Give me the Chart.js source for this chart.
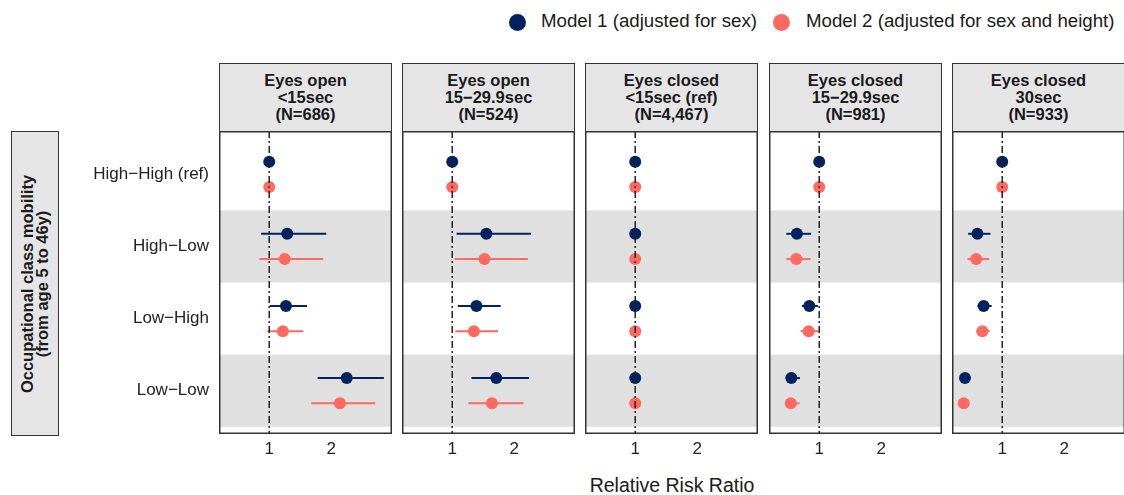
<!DOCTYPE html>
<html lang="en">
<head>
  <meta charset="UTF-8" />
  <title>Relative Risk Ratio by occupational class mobility</title>
  <script src="https://cdn.jsdelivr.net/npm/chart.js"></script>
  <style>
    body { margin: 0; width: 1124px; height: 495px; overflow: hidden; background: #fff;
           font-family: "Liberation Sans", Arial, sans-serif; color: #1a1a1a; position: relative; }
    .abs { position: absolute; }
    .strip { background: #e5e5e5; border: 1.5px solid #333; box-sizing: border-box;
             display: flex; align-items: center; justify-content: center; text-align: center;
             font-weight: bold; font-size: 16.5px; line-height: 17px; }
    .ylab { left: 11px; top: 131px; width: 48px; height: 305px; background: #e5e5e5;
            border: 1.5px solid #333; box-sizing: border-box; }
    .ylab span { position: absolute; left: 50%; top: 50%; transform: translate(-50%, -50%) rotate(-90deg);
                 white-space: nowrap; text-align: center; font-weight: bold; font-size: 16.5px; line-height: 15px; }
    .dot { width: 17px; height: 17px; border-radius: 50%; }
    .legtxt { font-size: 18.7px; top: 10px; white-space: nowrap; }
  </style>
</head>
<body>
  <!-- Legend -->
  <div class="abs dot" style="left:509px;top:14px;background:#00235f"></div>
  <div class="abs legtxt" style="left:541px">Model 1 (adjusted for sex)</div>
  <div class="abs dot" style="left:773px;top:14px;background:#ff6961"></div>
  <div class="abs legtxt" style="left:806px">Model 2 (adjusted for sex and height)</div>

  <!-- y title box -->
  <div class="abs ylab"><span>Occupational class mobility<br>(from age 5 to 46y)</span></div>

  <div id="panels"></div>

  <div class="abs" style="left:0;width:1344px;top:474px;text-align:center;font-size:19.5px">Relative Risk Ratio</div>

  <script>
    const rowLabels = ['High\u2212High (ref)', 'High\u2212Low', 'Low\u2212High', 'Low\u2212Low'];
    const panelTitles = [
      ['Eyes open', '<15sec', '(N=686)'],
      ['Eyes open', '15\u221229.9sec', '(N=524)'],
      ['Eyes closed', '<15sec (ref)', '(N=4,467)'],
      ['Eyes closed', '15\u221229.9sec', '(N=981)'],
      ['Eyes closed', '30sec', '(N=933)']
    ];
    const xTicks = [1, 2];

    // estimates per panel, rows in order of rowLabels
    const m1Est  = [[1, 1.29, 1.27, 2.25], [1, 1.55, 1.39, 1.71], [1, 1, 1, 1], [1, 0.64, 0.84, 0.55], [1, 0.60, 0.70, 0.40]];
    const m1Low  = [[1, 0.87, 1.01, 1.78], [1, 1.07, 1.09, 1.31], [1, 1, 1, 1], [1, 0.47, 0.72, 0.46], [1, 0.45, 0.60, 0.37]];
    const m1High = [[1, 1.92, 1.61, 2.85], [1, 2.27, 1.78, 2.24], [1, 1, 1, 1], [1, 0.87, 0.98, 0.69], [1, 0.81, 0.83, 0.44]];
    const m2Est  = [[1, 1.25, 1.22, 2.14], [1, 1.52, 1.35, 1.64], [1, 1, 1, 1], [1, 0.63, 0.83, 0.54], [1, 0.58, 0.68, 0.38]];
    const m2Low  = [[1, 0.84, 0.97, 1.68], [1, 1.04, 1.05, 1.26], [1, 1, 1, 1], [1, 0.47, 0.70, 0.45], [1, 0.44, 0.58, 0.35]];
    const m2High = [[1, 1.87, 1.55, 2.71], [1, 2.22, 1.74, 2.15], [1, 1, 1, 1], [1, 0.86, 0.99, 0.68], [1, 0.79, 0.80, 0.42]];

    const navy = '#00235f';
    const salmon = '#ff6961';
    const panelLeft = [219, 402, 585, 769, 952];
    const panelW = 173, panelTop = 131, panelH = 303, axisH = 30, yAxisW = 159;
    const off = 0.175;

    // grey bands + panel border
    const bandPlugin = {
      id: 'bands',
      beforeDatasetsDraw(chart) {
        const { ctx, chartArea: a, scales: { y } } = chart;
        ctx.save();
        ctx.fillStyle = '#e0e0e0';
        [2, 4].forEach(r => {
          const t = y.getPixelForValue(r - 0.5), b = y.getPixelForValue(r + 0.5);
          ctx.fillRect(a.left, t, a.right - a.left, b - t);
        });
        ctx.restore();
      },
      afterDraw(chart) {
        const { ctx, chartArea: a } = chart;
        ctx.save();
        ctx.strokeStyle = '#333';
        ctx.lineWidth = 1.5;
        ctx.strokeRect(a.left + 0.75, a.top + 0.75, a.right - a.left - 1.5, a.bottom - a.top - 1.5);
        ctx.restore();
      }
    };

    const holder = document.getElementById('panels');

    panelTitles.forEach((title, p) => {
      const strip = document.createElement('div');
      strip.className = 'abs strip';
      strip.style.cssText = `left:${panelLeft[p]}px;top:63px;width:${panelW}px;height:69px`;
      strip.innerHTML = title.map(t => t.replace('<', '&lt;')).join('<br>');
      holder.appendChild(strip);

      const first = p === 0;
      const wrap = document.createElement('div');
      wrap.className = 'abs';
      const w = panelW + (first ? yAxisW : 0);
      wrap.style.cssText = `left:${panelLeft[p] - (first ? yAxisW : 0)}px;top:${panelTop}px;width:${w}px;height:${panelH + axisH}px`;
      const cv = document.createElement('canvas');
      wrap.appendChild(cv);
      holder.appendChild(wrap);

      const datasets = [];
      // reference line at 1
      datasets.push({
        type: 'line', data: [{ x: 1, y: 0.4 }, { x: 1, y: 4.6 }],
        borderColor: '#222', borderWidth: 1.5, borderDash: [7, 3, 2, 3],
        pointRadius: 0, order: 0
      });
      const models = [
        { est: m1Est, lo: m1Low, hi: m1High, color: navy, dy: -off },
        { est: m2Est, lo: m2Low, hi: m2High, color: salmon, dy: off }
      ];
      models.forEach(m => {
        rowLabels.forEach((r, i) => {
          if (m.lo[p][i] === m.hi[p][i]) return;
          datasets.push({
            type: 'line',
            data: [{ x: m.lo[p][i], y: i + 1 + m.dy }, { x: m.hi[p][i], y: i + 1 + m.dy }],
            borderColor: m.color, borderWidth: 2, pointRadius: 0, order: 2
          });
        });
        datasets.push({
          type: 'scatter',
          data: rowLabels.map((r, i) => ({ x: m.est[p][i], y: i + 1 + m.dy })),
          backgroundColor: m.color, borderWidth: 0, pointRadius: 6, order: 1
        });
      });

      new Chart(cv, {
        data: { datasets },
        options: {
          responsive: true,
          maintainAspectRatio: false,
          animation: false,
          layout: { padding: 0, autoPadding: false },
          plugins: { legend: { display: false }, tooltip: { enabled: false } },
          scales: {
            x: {
              type: 'linear', min: 0.19, max: 2.98,
              afterBuildTicks: s => { s.ticks = xTicks.map(v => ({ value: v })); },
              afterFit: s => { s.height = axisH; s.paddingLeft = 0; s.paddingRight = 0; },
              grid: { display: false, drawTicks: false },
              border: { display: false },
              ticks: { padding: 5, maxRotation: 0, color: '#222', font: { family: 'Liberation Sans', size: 17 } }
            },
            y: {
              type: 'linear', min: 0.4, max: 4.6, reverse: true,
              display: first,
              afterBuildTicks: s => { s.ticks = rowLabels.map((r, i) => ({ value: i + 1 })); },
              afterFit: s => {
                if (first) s.width = yAxisW;
                s.paddingTop = 0;
                s.paddingBottom = 0;
              },
              grid: { display: false, drawTicks: false },
              border: { display: false },
              ticks: {
                padding: 10, color: '#222', font: { family: 'Liberation Sans', size: 17 },
                callback: v => rowLabels[v - 1]
              }
            }
          }
        },
        plugins: [bandPlugin]
      });
    });
  </script>
</body>
</html>
